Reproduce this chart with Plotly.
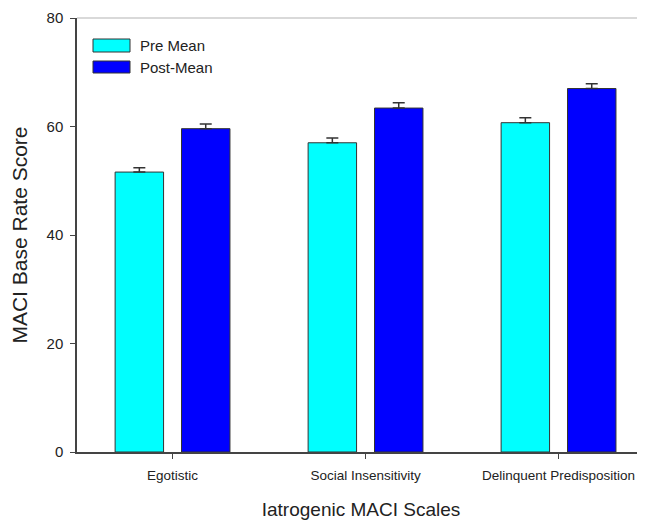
import plotly.graph_objects as go

categories = ["Egotistic", "Social Insensitivity", "Delinquent Predisposition"]
pre_mean = [51.6, 57.0, 60.7]
pre_err = [0.8, 0.9, 0.9]
post_mean = [59.6, 63.4, 67.0]
post_err = [0.85, 1.0, 0.9]
series_names = ["Pre Mean", "Post-Mean"]
y_ticks = [0, 20, 40, 60, 80]

# page body has an 8px margin, so the figure is drawn 8px in and down
OFF = 8
W, H = 645 - OFF, 520 - OFF
ML, MR, MT, MB = 77 - OFF, 0, 18 - OFF, 68
PW, PH = W - ML - MR, H - MT - MB

def px_x(p):
    return (p - OFF - ML) / PW

def px_y(p):
    return 1 - (p - OFF - MT) / PH

font = "Arial, Liberation Sans, sans-serif"
txt = "#222222"
xs = list(range(len(categories)))

fig = go.Figure()
for name, vals, errs, col in [
    (series_names[0], pre_mean, pre_err, "#00FFFF"),
    (series_names[1], post_mean, post_err, "#0000FF"),
]:
    fig.add_trace(go.Bar(
        x=xs, y=vals, name=name,
        marker=dict(color=col, line=dict(color="#333333", width=1)),
        error_y=dict(type="data", array=errs, arrayminus=[0] * len(errs),
                     symmetric=False, color="#333333", thickness=1.5, width=6),
        showlegend=False,
    ))

fig.update_layout(
    width=W, height=H,
    margin=dict(l=ML, r=MR, t=MT, b=MB),
    plot_bgcolor="white", paper_bgcolor="white",
    barmode="group", bargap=0.312, bargroupgap=0.27,
    font=dict(family=font, color=txt),
    xaxis=dict(
        range=[-0.495, 2.448], tickvals=xs, ticktext=categories,
        tickfont=dict(size=13.5, color=txt), ticks="outside", ticklen=5,
        tickcolor="#444444", ticklabelstandoff=5,
        showline=True, linecolor="#444444", linewidth=1.5,
        showgrid=False, zeroline=False,
        title=dict(text="Iatrogenic MACI Scales", font=dict(size=19, color=txt), standoff=22),
    ),
    yaxis=dict(
        range=[0, 80], tickvals=y_ticks, tickfont=dict(size=15, color=txt),
        ticks="outside", ticklen=5, tickcolor="#444444", ticklabelstandoff=4,
        showline=True, linecolor="#444444", linewidth=1.5,
        showgrid=False, zeroline=False,
        title=dict(text="MACI Base Rate Score", font=dict(size=21, color=txt), standoff=14),
    ),
)

# light top frame line
fig.add_shape(type="line", xref="paper", yref="paper", x0=0, x1=1, y0=1, y1=1,
              line=dict(color="#cccccc", width=1.5))

# legend drawn as shapes + text
legend_items = [(series_names[0], "#00FFFF", 39, 52), (series_names[1], "#0000FF", 61, 73)]
for name, col, ytop, ybot in legend_items:
    fig.add_shape(type="rect", xref="paper", yref="paper",
                  x0=px_x(93), x1=px_x(130), y0=px_y(ybot), y1=px_y(ytop),
                  fillcolor=col, line=dict(color="#333333", width=1))
    fig.add_annotation(xref="paper", yref="paper", x=px_x(138), y=px_y((ytop + ybot) / 2),
                       text=name, showarrow=False, xanchor="left", yanchor="middle",
                       font=dict(size=15, color=txt))

fig.write_html("out.html")
